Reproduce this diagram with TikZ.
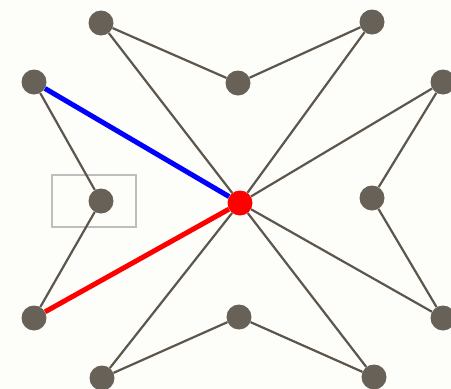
\documentclass[tikz,border=0pt]{standalone}
\begin{document}
\begin{tikzpicture}[x=1pt,y=-1pt,
  vtx/.style={circle,fill=nodegray,inner sep=0pt,minimum size=25pt},
  hub/.style={circle,fill=red,inner sep=0pt,minimum size=25pt},
  edge/.style={draw=edgegray,line width=2.2pt},
  thick edge/.style={line width=5pt}]
\definecolor{nodegray}{RGB}{104,97,88}
\definecolor{edgegray}{RGB}{92,86,76}
\definecolor{boxgray}{RGB}{190,190,190}
\definecolor{paper}{RGB}{253,253,249}
\fill[paper] (0,0) rectangle (451,389);
\useasboundingbox (0,0) rectangle (451,389);
\draw[boxgray,line width=2.4pt] (52,175) rectangle (136,227);
\node[vtx] (tl) at (101,23) {};
\node[vtx] (tr) at (372,22) {};
\node[vtx] (tm) at (238,83) {};
\node[vtx] (lu) at (34,82) {};
\node[vtx] (ru) at (443,82) {};
\node[vtx] (lm) at (101,201) {};
\node[vtx] (rm) at (372,198) {};
\node[vtx] (ll) at (34,318) {};
\node[vtx] (rl) at (443,318) {};
\node[vtx] (bm) at (239,317) {};
\node[vtx] (bl) at (102,378) {};
\node[vtx] (br) at (374,377) {};
\node[hub] (c) at (240,203) {};
\draw[edge] (tl) -- (c);
\draw[edge] (tl) -- (tm);
\draw[edge] (tm) -- (tr);
\draw[edge] (tr) -- (c);
\draw[edge] (lu) -- (lm);
\draw[edge] (lm) -- (ll);
\draw[edge] (ru) -- (c);
\draw[edge] (ru) -- (rm);
\draw[edge] (rm) -- (rl);
\draw[edge] (rl) -- (c);
\draw[edge] (bl) -- (c);
\draw[edge] (bl) -- (bm);
\draw[edge] (bm) -- (br);
\draw[edge] (br) -- (c);
\draw[blue,thick edge] (lu) -- (c);
\draw[red,thick edge] (ll) -- (c);
\end{tikzpicture}
\end{document}
